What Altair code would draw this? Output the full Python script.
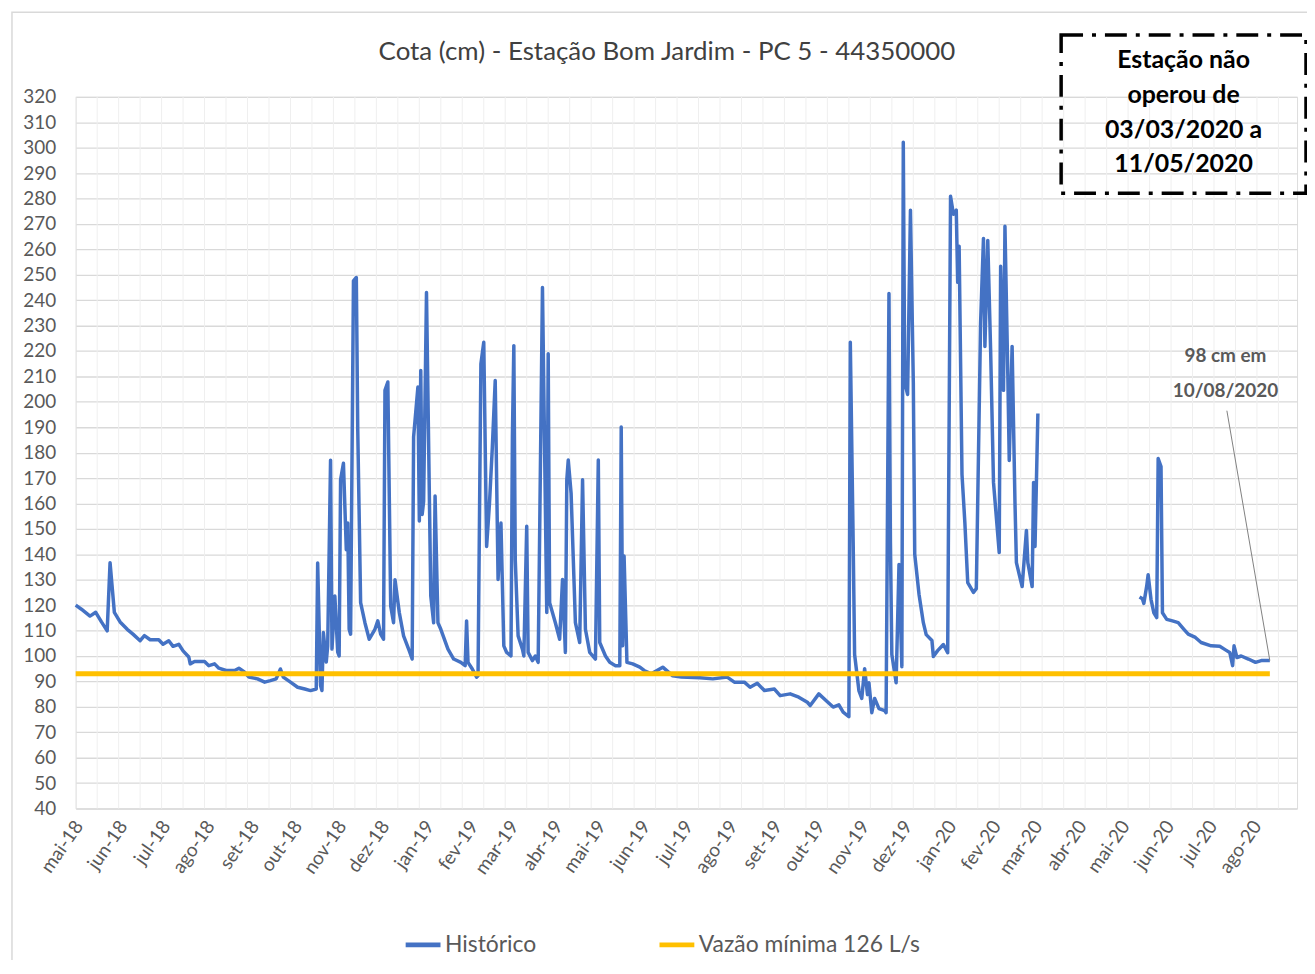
import altair as alt
import pandas as pd

# ---------------- data ----------------
dates_part1 = [
    "2018-04-29", "2018-05-03", "2018-05-09", "2018-05-13", "2018-05-17", "2018-05-21", "2018-05-23",
    "2018-05-26", "2018-05-30", "2018-06-04", "2018-06-08", "2018-06-13", "2018-06-16", "2018-06-20",
    "2018-06-26", "2018-06-29", "2018-07-03", "2018-07-06", "2018-07-10", "2018-07-13", "2018-07-17",
    "2018-07-18", "2018-07-21", "2018-07-28", "2018-07-31", "2018-08-04", "2018-08-07", "2018-08-12",
    "2018-08-18", "2018-08-21", "2018-08-25", "2018-08-28", "2018-09-03", "2018-09-08", "2018-09-12",
    "2018-09-16", "2018-09-19", "2018-09-21", "2018-09-26", "2018-10-01", "2018-10-06", "2018-10-10",
    "2018-10-14", "2018-10-15", "2018-10-17", "2018-10-18", "2018-10-19", "2018-10-21", "2018-10-22",
    "2018-10-24", "2018-10-25", "2018-10-27", "2018-10-29", "2018-10-30", "2018-10-31", "2018-11-02",
    "2018-11-04", "2018-11-05", "2018-11-06", "2018-11-07", "2018-11-09", "2018-11-11", "2018-11-12",
    "2018-11-14", "2018-11-17", "2018-11-20", "2018-11-24", "2018-11-26", "2018-11-28", "2018-11-30",
    "2018-12-01", "2018-12-03", "2018-12-05", "2018-12-07", "2018-12-08", "2018-12-11", "2018-12-14",
    "2018-12-18", "2018-12-20", "2018-12-21", "2018-12-24", "2018-12-25", "2018-12-26", "2018-12-27",
    "2018-12-28", "2018-12-30", "2019-01-02", "2019-01-04", "2019-01-05", "2019-01-07", "2019-01-09",
    "2019-01-14", "2019-01-18", "2019-01-23", "2019-01-26", "2019-01-27", "2019-01-28", "2019-01-31",
    "2019-02-03", "2019-02-04", "2019-02-06", "2019-02-08", "2019-02-10", "2019-02-12", "2019-02-14",
    "2019-02-16", "2019-02-18", "2019-02-20", "2019-02-22", "2019-02-24", "2019-02-27", "2019-02-28",
    "2019-03-01", "2019-03-02", "2019-03-04", "2019-03-07", "2019-03-08", "2019-03-10", "2019-03-11",
    "2019-03-14", "2019-03-16", "2019-03-18", "2019-03-21", "2019-03-24", "2019-03-25", "2019-03-26",
    "2019-03-30", "2019-04-02", "2019-04-04", "2019-04-06", "2019-04-07", "2019-04-08", "2019-04-10",
    "2019-04-13", "2019-04-16", "2019-04-18", "2019-04-20", "2019-04-23", "2019-04-27", "2019-04-29",
    "2019-04-30", "2019-05-04", "2019-05-07", "2019-05-11", "2019-05-14", "2019-05-15", "2019-05-16",
    "2019-05-17", "2019-05-19", "2019-05-23", "2019-05-28", "2019-05-31", "2019-06-05", "2019-06-13",
    "2019-06-20", "2019-06-26", "2019-07-09", "2019-07-18", "2019-07-28", "2019-08-02", "2019-08-09",
    "2019-08-13", "2019-08-18", "2019-08-23", "2019-08-30", "2019-09-03", "2019-09-10", "2019-09-16",
    "2019-09-22", "2019-09-24", "2019-09-30", "2019-10-05", "2019-10-10", "2019-10-14", "2019-10-17",
    "2019-10-21", "2019-10-22", "2019-10-24", "2019-10-25", "2019-10-28", "2019-10-30", "2019-11-01",
    "2019-11-03", "2019-11-04", "2019-11-06", "2019-11-08", "2019-11-11", "2019-11-15", "2019-11-16",
    "2019-11-18", "2019-11-19", "2019-11-20", "2019-11-23", "2019-11-25", "2019-11-27", "2019-11-28",
    "2019-11-29", "2019-12-01", "2019-12-03", "2019-12-05", "2019-12-06", "2019-12-09", "2019-12-12",
    "2019-12-14", "2019-12-18", "2019-12-19", "2019-12-22", "2019-12-26", "2019-12-29", "2019-12-31",
    "2020-01-02", "2020-01-04", "2020-01-05", "2020-01-06", "2020-01-08", "2020-01-10", "2020-01-12",
    "2020-01-16", "2020-01-18", "2020-01-21", "2020-01-23", "2020-01-24", "2020-01-26", "2020-01-28",
    "2020-01-30", "2020-02-03", "2020-02-04", "2020-02-06", "2020-02-07", "2020-02-09", "2020-02-10",
    "2020-02-12", "2020-02-14", "2020-02-15", "2020-02-19", "2020-02-22", "2020-02-23", "2020-02-26",
    "2020-02-27", "2020-02-28", "2020-03-01",
]
values_part1 = [
    120, 118.4, 115.7, 117.2, 113.4, 109.9, 136.7,
    117.2, 113.4, 110.5, 108.6, 106, 108, 106.4,
    106.4, 104.6, 106, 103.8, 104.6, 102, 99.6,
    96.9, 97.8, 97.8, 96.2, 96.9, 95.2, 94.3,
    94.3, 95.2, 93.6, 91.7, 91, 89.7, 90.3,
    91, 94.9, 91.7, 89.7, 87.7, 87, 86.4,
    87, 136.6, 88.4, 86.4, 109.2, 97.6, 104,
    177, 102.7, 123.6, 101.5, 100, 169.3, 175.8,
    141.8, 152.3, 110.5, 108.6, 247.6, 248.9, 188.8,
    121, 113.1, 106.6, 110.5, 113.8, 108.6, 106.6,
    204.5, 207.8, 119.7, 113.1, 130, 117.1, 107.9,
    102, 98.8, 186.2, 205.8, 153.1, 212.3, 155.7,
    160.9, 243, 123.6, 113.1, 162.9, 113.1, 110.5,
    102.7, 98.8, 97.5, 96.2, 113.8, 97.5, 94.9,
    91.7, 92.2, 214.9, 223.4, 143.1, 160.1, 182.3,
    208.4, 130.1, 152.3, 104, 101.4, 100, 186.2,
    222.1, 137.9, 107.9, 102.7, 100, 151, 101.4,
    98.2, 100, 97.5, 245, 117.1, 218.9, 121,
    113.1, 106.6, 130.1, 101.4, 169.3, 177.1, 164,
    113.1, 105.3, 169.3, 110.5, 101.4, 98.8, 177.1,
    105.3, 100, 97.5, 96.2, 96.2, 190.1, 104,
    139.3, 97.5, 96.9, 95.6, 94.3, 93.0, 95.6,
    92.2, 91.7, 91.4, 91, 91.7, 89.7, 89.7,
    87.7, 89.3, 86.4, 87, 84.4, 85.1, 83.8,
    81.8, 80.5, 85.1, 82.5, 79.9, 80.8, 77.9,
    76.1, 223.4, 144.6, 100.6, 86.4, 83.3, 95,
    84.8, 89.5, 77.7, 83.3, 79.3, 78.5, 77.7,
    242.6, 144.6, 100.6, 89.5, 136, 95.8, 302.1,
    207.6, 202.9, 275.4, 207.6, 140, 124.2, 113.1,
    108.4, 106.1, 99.8, 102.1, 104.5, 101.3, 280.9,
    273.8, 275.4, 247, 261.2, 171.4, 152.5, 128.9,
    125, 126.5, 231.3, 264.3, 221.8, 263.5, 220.2,
    168.3, 140.7, 253.3, 204.5, 269.1, 210.8, 176.9,
    221.8, 160.4, 136.7, 127.3, 149.4, 136.7, 127.3,
    168.3, 143.1, 195.4,
]
dates_part2 = [
    "2020-05-11", "2020-05-13", "2020-05-14", "2020-05-16", "2020-05-17", "2020-05-19", "2020-05-21",
    "2020-05-23", "2020-05-24", "2020-05-26", "2020-05-27", "2020-05-30", "2020-06-03", "2020-06-07",
    "2020-06-11", "2020-06-14", "2020-06-19", "2020-06-23", "2020-06-30", "2020-07-06", "2020-07-10",
    "2020-07-13", "2020-07-15", "2020-07-16", "2020-07-18", "2020-07-21", "2020-07-26", "2020-07-31",
    "2020-08-04", "2020-08-10",
]
values_part2 = [
    123.2, 122.5, 120.7, 127.5, 132, 122.3, 117,
    115.1, 177.7, 174.5, 117, 114.4, 113.8, 113.1,
    110.5, 108.6, 107.3, 105.3, 104, 103.8, 102.4,
    101.4, 96.2, 104, 99.4, 100, 98.8, 97.5,
    98.2, 98.2,
]
min_dates = ["2018-04-29", "2020-08-10"]
min_values = [93, 93]
series_names = ["Histórico", "Vazão mínima 126 L/s"]
series_colors = ["#4472C4", "#FFC000"]
month_abbr = ["jan", "fev", "mar", "abr", "mai", "jun", "jul", "ago", "set", "out", "nov", "dez"]
y_ticks = list(range(40, 321, 10))
title_text = "Cota (cm) - Estação Bom Jardim - PC 5 - 44350000"
box_lines = ["Estação não", "operou de", "03/03/2020 a", "11/05/2020"]
note_lines = ["98 cm em", "10/08/2020"]
note_date, note_value = "2020-07-10", 218
leader_from = ("2020-07-11", 196.5)
leader_to = ("2020-08-10", 98.2)

# ---------------- tables ----------------
hist = pd.DataFrame({
    "date": dates_part1 + dates_part2,
    "value": values_part1 + values_part2,
    "seg": [1] * len(dates_part1) + [2] * len(dates_part2),
    "serie": series_names[0],
})
vmin = pd.DataFrame({"date": min_dates, "value": min_values, "serie": series_names[1]})
grid_dates = pd.DataFrame({"date": pd.date_range("2018-04-29", "2020-08-28", freq="15D").strftime("%Y-%m-%d"),
                           "value": 40})
month_ticks = []
y, m = 2018, 5
while (y, m) <= (2020, 8):
    month_ticks.append(alt.DateTime(year=y, month=m, date=1, utc=True))
    m += 1
    if m > 12:
        m, y = 1, y + 1

FONT = "Lato"
GRAY = "#595959"

x_scale = alt.Scale(type="utc", domain=[alt.DateTime(year=2018, month=4, date=29, utc=True),
                                        alt.DateTime(year=2020, month=8, date=29, utc=True)])
y_scale = alt.Scale(domain=[40, 320], nice=False, zero=False)
color_scale = alt.Scale(domain=series_names, range=series_colors)

label_expr = ("['" + "','".join(month_abbr) + "'][utcmonth(datum.value)] + '-' + utcFormat(datum.value, '%y')")

x_axis = alt.Axis(values=month_ticks, labelExpr=label_expr, labelAngle=-55, labelAlign="right",
                  labelBaseline="middle", labelPadding=14, labelFont=FONT, labelFontSize=19,
                  labelColor=GRAY, grid=False, domain=False, ticks=False, labelOverlap=False,
                  labelFlush=False, title=None)
y_axis = alt.Axis(values=y_ticks, grid=True, gridColor="#D9D9D9", gridWidth=1.3, domain=False,
                  ticks=False, labelPadding=20, labelFont=FONT, labelFontSize=19, labelColor=GRAY,
                  labelOverlap=False, labelFlush=False, title=None)

legend = alt.Legend(title=None, orient="none", legendX=329, legendY=832, direction="horizontal",
                    symbolType="stroke", symbolSize=1225, symbolStrokeWidth=5, labelFont=FONT,
                    labelFontSize=23, labelColor=GRAY, labelOffset=2, columnPadding=113,
                    labelLimit=400)


def X(field):
    return alt.X(field, scale=x_scale, axis=x_axis)


def Y(field):
    return alt.Y(field, scale=y_scale, axis=y_axis)


vgrid = alt.Chart(grid_dates).mark_rule(color="#EFEFEF", strokeWidth=1).encode(
    x=X("date:T"), y=Y("value:Q"), y2=alt.value(0)
)

line_hist = alt.Chart(hist).mark_line(strokeWidth=3.5, strokeJoin="round").encode(
    x=X("date:T"), y=Y("value:Q"),
    color=alt.Color("serie:N", scale=color_scale, legend=legend),
    detail="seg:N",
)

line_min = alt.Chart(vmin).mark_line(strokeWidth=5).encode(
    x=X("date:T"), y=Y("value:Q"),
    color=alt.Color("serie:N", scale=color_scale, legend=legend),
)

leader = alt.Chart(pd.DataFrame({"d1": [leader_from[0]], "v1": [leader_from[1]],
                                 "d2": [leader_to[0]], "v2": [leader_to[1]]})).mark_rule(
    color="#808080", strokeWidth=1).encode(
    x=X("d1:T"), x2="d2:T", y=Y("v1:Q"), y2="v2:Q",
)

note = alt.Chart(pd.DataFrame({"d": [note_date], "v": [note_value], "t": ["\n".join(note_lines)]})).mark_text(
    font=FONT, fontSize=19, fontWeight="bold", color=GRAY, lineBreak="\n", lineHeight=35,
    align="center", baseline="middle").encode(
    x=X("d:T"), y=Y("v:Q"), text="t:N",
)

title = alt.Chart(pd.DataFrame({"t": [title_text]})).mark_text(
    font=FONT, fontSize=26, color="#404040", align="center", baseline="middle").encode(
    text="t:N", x=alt.value(594), y=alt.value(-45),
)

box = alt.Chart(pd.DataFrame({"a": [0]})).mark_rect(
    fillOpacity=0, stroke="black", strokeWidth=3.5, strokeDash=[22, 9, 4, 9]).encode(
    x=alt.value(990), x2=alt.value(1236), y=alt.value(-62), y2=alt.value(97),
)

box_text = alt.Chart(pd.DataFrame({"t": ["\n".join(box_lines)]})).mark_text(
    font=FONT, fontSize=25, fontWeight="bold", color="black", lineBreak="\n", lineHeight=35,
    align="center", baseline="middle").encode(
    text="t:N", x=alt.value(1113), y=alt.value(-37),
)

frame = alt.Chart(pd.DataFrame({"a": [0]})).mark_rect(
    fillOpacity=0, stroke="#D9D9D9", strokeWidth=1.5).encode(
    x=alt.value(-64), x2=alt.value(1300), y=alt.value(-85), y2=alt.value(900),
)

chart = alt.layer(frame, vgrid, line_hist, line_min, leader, note, title, box, box_text).properties(
    width=1227, height=715,
    padding={"left": 68, "top": 87, "right": 10, "bottom": 150},
    autosize=alt.AutoSizeParams(type="none"),
).configure_view(stroke="transparent").configure(background="white")

chart.save("out.html", embed_options={"renderer": "svg", "actions": False})
